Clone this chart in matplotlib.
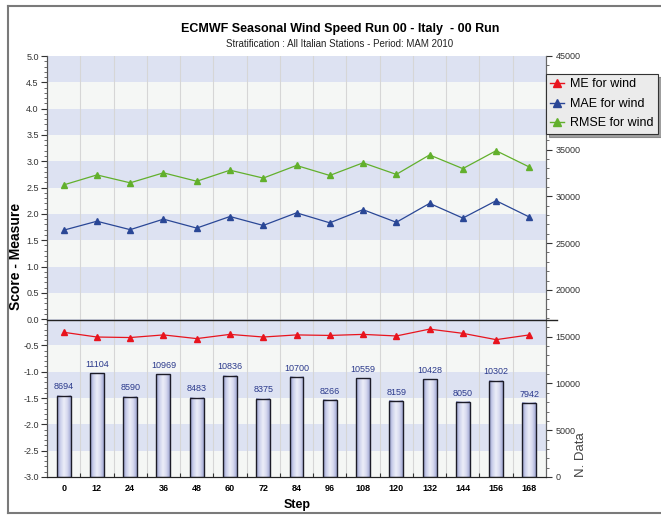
"""ECMWF seasonal wind speed scores with data counts (two y axes)."""

import matplotlib
matplotlib.use("Agg")
import matplotlib.pyplot as plt
import numpy as np
from matplotlib.colors import LinearSegmentedColormap
from matplotlib.lines import Line2D
from matplotlib.ticker import MultipleLocator, FormatStrFormatter, FuncFormatter

plt.rcParams["font.family"] = ["Liberation Sans", "DejaVu Sans"]

# ── Data ─────────────────────────────────────────────────────────────────

steps = ["0", "12", "24", "36", "48", "60", "72", "84", "96", "108",
         "120", "132", "144", "156", "168"]
me = [-0.25, -0.34, -0.35, -0.30, -0.37, -0.29, -0.34, -0.30, -0.31, -0.29,
      -0.32, -0.19, -0.27, -0.39, -0.30]
mae = [1.69, 1.86, 1.70, 1.90, 1.73, 1.95, 1.78, 2.02, 1.83, 2.08,
       1.84, 2.20, 1.92, 2.25, 1.94]
rmse = [2.55, 2.74, 2.59, 2.78, 2.62, 2.83, 2.68, 2.92, 2.73, 2.97,
        2.75, 3.12, 2.86, 3.20, 2.89]
n_data = [8694, 11104, 8590, 10969, 8483, 10836, 8375, 10700, 8266, 10559,
          8159, 10428, 8050, 10302, 7942]

# ── Style ────────────────────────────────────────────────────────────────

W, H = 661, 515
BAND_BLUE = "#dde2f2"
BAND_LIGHT = "#f5f7f5"
GRID = "#d6d6d6"
ME_C = "#e8141e"
MAE_C = "#2a4796"
RMSE_C = "#62b02c"
BAR_LABEL_C = "#2b3a8c"
BAR_W = 0.42

fig = plt.figure(figsize=(W / 100, H / 100), dpi=100)
fig.patch.set_facecolor("white")
ax = fig.add_axes([47 / W, 1 - 477 / H, (546 - 47) / W, (477 - 56) / H])
ax2 = ax.twinx()

x = np.arange(len(steps))

# background bands
for k in range(-6, 10):
    lo = k * 0.5
    ax.axhspan(lo, lo + 0.5, color=BAND_BLUE if k % 2 else BAND_LIGHT,
               lw=0, zorder=0)
for b in np.arange(-0.5, len(steps), 1.0):
    ax.axvline(b, color=GRID, lw=0.8, zorder=0.5)

# score lines
ax.plot(x, rmse, color=RMSE_C, lw=0.9, marker="^", ms=5,
        markerfacecolor=RMSE_C, markeredgecolor=RMSE_C, zorder=3)
ax.plot(x, mae, color=MAE_C, lw=0.9, marker="^", ms=5,
        markerfacecolor=MAE_C, markeredgecolor=MAE_C, zorder=3)
ax.plot(x, me, color=ME_C, lw=0.9, marker="^", ms=5,
        markerfacecolor=ME_C, markeredgecolor=ME_C, zorder=3)

# bars with a cylinder-like gradient
grad = LinearSegmentedColormap.from_list(
    "bar", ["#959dcc", "#cdd1ec", "#eceef8", "#d6d9ef", "#a1a8d3"])
gimg = np.linspace(0, 1, 64).reshape(1, -1)
for xi, n in zip(x, n_data):
    ax2.imshow(gimg, cmap=grad, aspect="auto", zorder=2,
               extent=[xi - BAR_W / 2, xi + BAR_W / 2, 0, n])
ax2.bar(x, n_data, width=BAR_W, facecolor="none", edgecolor="#1c1c28",
        lw=1.0, zorder=3)
for xi, n in zip(x, n_data):
    ax2.annotate(f"{n}", (xi, n), xytext=(0, 3), textcoords="offset points",
                 ha="center", va="bottom", fontsize=6.5, color=BAR_LABEL_C)

# axes limits and ticks
ax.set_xlim(-0.5, len(steps) - 0.5)
ax.set_ylim(-3, 5)
ax2.set_xlim(-0.5, len(steps) - 0.5)
ax2.set_ylim(0, 45000)

ax.yaxis.set_major_locator(MultipleLocator(0.5))
ax.yaxis.set_minor_locator(MultipleLocator(0.1))
ax.yaxis.set_major_formatter(FormatStrFormatter("%.1f"))
ax.tick_params(axis="y", which="major", length=4, width=0.8,
               labelsize=6.5, colors="#333333", pad=2)
ax.tick_params(axis="y", which="minor", length=2, width=0.6, colors="#555555")

# 40000 sits under the legend in the source, so it is not labelled
ax2.yaxis.set_major_locator(MultipleLocator(5000))
ax2.yaxis.set_minor_locator(MultipleLocator(1000))
ax2.yaxis.set_major_formatter(
    FuncFormatter(lambda v, _: "" if round(v) == 40000 else f"{v:.0f}"))
ax2.tick_params(axis="y", which="major", length=4, width=0.8,
                labelsize=6.5, colors="#333333", pad=3)
ax2.tick_params(axis="y", which="minor", length=2, width=0.6, colors="#555555")

ax.set_xticks(x)
ax.set_xticklabels(steps, fontweight="bold", fontsize=6.5)
ax.set_xticks(np.arange(0.5, len(steps) - 1, 1.0), minor=True)
ax.tick_params(axis="x", which="major", length=0, pad=5)
ax.tick_params(axis="x", which="minor", direction="in", length=3,
               width=0.8, color="#333333")
ax2.tick_params(axis="x", which="both", length=0)

for a in (ax, ax2):
    a.spines["top"].set_visible(False)
    a.spines["left"].set_color("#555555")
    a.spines["right"].set_color("#666666")
    a.spines["bottom"].set_color("#222222")

# zero line extending past the right axis
fig.add_artist(Line2D([47 / W, 557 / W], [1 - 319.5 / H, 1 - 319.5 / H],
                      color="#222222", lw=1.0))

# labels and titles
fig.text(340 / W, 1 - 29 / H,
         "ECMWF Seasonal Wind Speed Run 00 - Italy  - 00 Run",
         ha="center", va="center", fontsize=9, fontweight="bold")
fig.text(340 / W, 1 - 44 / H,
         "Stratification : All Italian Stations - Period: MAM 2010",
         ha="center", va="center", fontsize=7, color="#222222")
fig.text(16 / W, 1 - 256 / H, "Score - Measure", rotation=90,
         ha="center", va="center", fontsize=10, fontweight="bold")
fig.text(297 / W, 1 - 505 / H, "Step", ha="center", va="center",
         fontsize=9, fontweight="bold")
fig.text(581 / W, 1 - 477 / H, "N. Data", rotation=90, ha="center",
         va="bottom", fontsize=9.5, color="#444444")

# legend
handles = [
    Line2D([], [], color=ME_C, marker="^", ms=6, lw=1),
    Line2D([], [], color=MAE_C, marker="^", ms=6, lw=1),
    Line2D([], [], color=RMSE_C, marker="^", ms=6, lw=1),
]
leg = fig.legend(handles, ["ME for wind", "MAE for wind", "RMSE for wind"],
                 loc="upper left", bbox_to_anchor=(546 / W, 1 - 74 / H),
                 fontsize=9, frameon=True, fancybox=False, shadow=True,
                 handlelength=1.1, handletextpad=0.5, borderpad=0.35,
                 labelspacing=0.6, borderaxespad=0)
leg.get_frame().set_facecolor("#ebebeb")
leg.get_frame().set_edgecolor("#333333")
leg.get_frame().set_linewidth(0.8)

# outer frame (open on the right, like the source)
frame_c = "#7a7a7a"
fig.add_artist(Line2D([7.5 / W, 7.5 / W], [1 - 5.5 / H, 1 - 513 / H],
                      color=frame_c, lw=1.5))
fig.add_artist(Line2D([7.5 / W, 1], [1 - 5.5 / H, 1 - 5.5 / H],
                      color=frame_c, lw=1.5))
fig.add_artist(Line2D([7.5 / W, 1], [1 - 513 / H, 1 - 513 / H],
                      color=frame_c, lw=1.5))

fig.savefig("out.png", dpi=100)
